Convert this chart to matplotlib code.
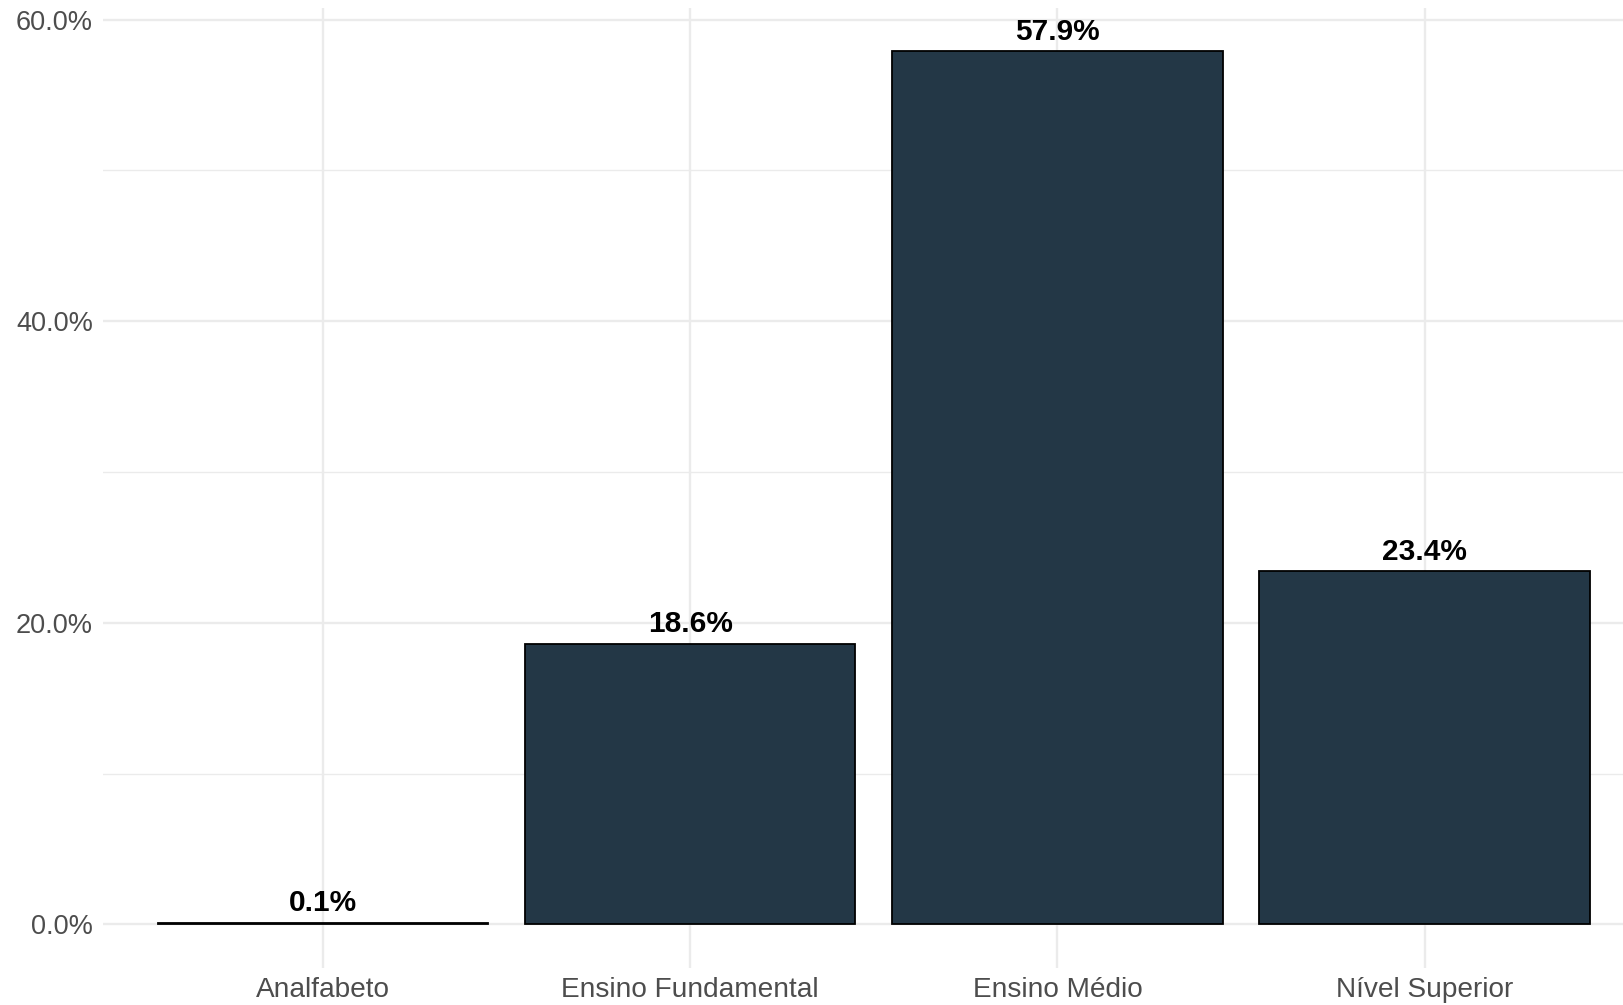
import matplotlib.pyplot as plt
import numpy as np

categorias = ["Analfabeto", "Ensino Fundamental", "Ensino Médio", "Nível Superior"]
percentuais = [0.1, 18.6, 57.9, 23.4]
rotulos = ["0.1%", "18.6%", "57.9%", "23.4%"]

plt.rcParams['font.family'] = ['Liberation Sans', 'DejaVu Sans']

fig = plt.figure(figsize=(16.23, 10.05), dpi=100)
ax = fig.add_axes([102.5 / 1623, 37 / 1005, 1 - 102.5 / 1623, (968 - 7.6) / 1005])

x = np.arange(1, len(categorias) + 1)
ax.bar(x, percentuais, width=0.9, color="#233746", edgecolor="black", linewidth=1.3, zorder=3)

for xi, v, lab in zip(x, percentuais, rotulos):
    ax.annotate(lab, (xi, v), xytext=(0, 4), textcoords="offset points",
                ha="center", va="bottom", fontsize=21.5, fontweight="bold", color="black", zorder=4)

ax.set_xlim(0.4, 4.54)
ax.set_ylim(-2.9, 60.8)
ax.set_xticks(x)
ax.set_xticklabels(categorias)
ax.set_yticks([0, 20, 40, 60])
ax.set_yticklabels(["0.0%", "20.0%", "40.0%", "60.0%"])
ax.set_yticks([10, 30, 50], minor=True)

ax.grid(True, which="major", color="#EBEBEB", linewidth=1.7, zorder=0)
ax.grid(True, which="minor", axis="y", color="#EBEBEB", linewidth=1.0, zorder=0)
ax.set_axisbelow(True)

for s in ax.spines.values():
    s.set_visible(False)
ax.tick_params(axis="both", which="both", length=0, labelcolor="#4D4D4D")
ax.tick_params(axis="y", pad=7, labelsize=19.5)
ax.tick_params(axis="x", pad=6.5, labelsize=20.2)

fig.savefig("out.png", dpi=100)
